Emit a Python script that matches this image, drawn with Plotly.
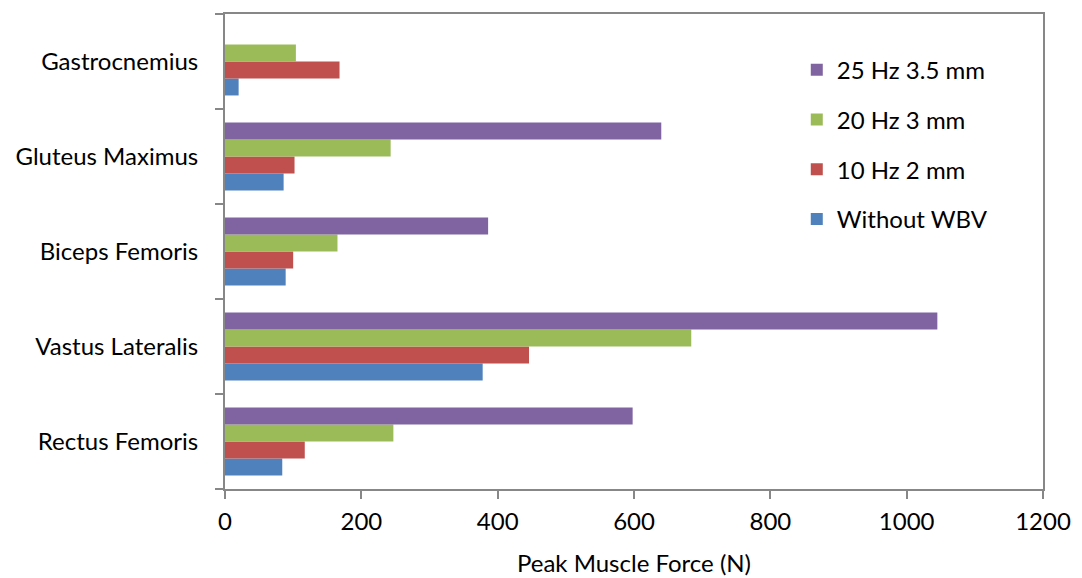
import plotly.graph_objects as go

categories = ["Rectus Femoris", "Vastus Lateralis", "Biceps Femoris", "Gluteus Maximus", "Gastrocnemius"]
without_wbv = [84, 378, 89, 86, 20]
hz10_2mm = [117, 446, 100, 102, 168]
hz20_3mm = [247, 684, 165, 243, 104]
hz25_35mm = [598, 1045, 386, 640, None]

series = [
    ("Without WBV", without_wbv, "#4F81BD", 4),
    ("10 Hz 2 mm", hz10_2mm, "#C0504D", 3),
    ("20 Hz 3 mm", hz20_3mm, "#9BBB59", 2),
    ("25 Hz 3.5 mm", hz25_35mm, "#8064A2", 1),
]

x_ticks = [0, 200, 400, 600, 800, 1000, 1200]

fig = go.Figure()
for name, vals, color, rank in series:
    fig.add_trace(go.Bar(
        y=categories, x=vals, name=name, orientation="h",
        marker=dict(color=color, line=dict(width=0)),
        legendgroup=name, legendrank=rank,
    ))

font = "Lato, 'Open Sans', sans-serif"
fs = 24
axis_color = "#878787"

fig.update_layout(
    width=1082, height=578,
    barmode="group", bargap=0.285, bargroupgap=0,
    margin=dict(l=217, r=47, t=6, b=97),
    plot_bgcolor="white", paper_bgcolor="white",
    font=dict(family=font, size=fs, color="#000000"),
    showlegend=True,
    legend=dict(
        traceorder="grouped", tracegroupgap=15.5,
        x=0.699, y=0.929, xanchor="left", yanchor="top",
        font=dict(family=font, size=fs, color="#000000"),
        bgcolor="rgba(0,0,0,0)", itemwidth=30,
    ),
    xaxis=dict(
        range=[0, 1200], tickvals=x_ticks, ticktext=[str(v) for v in x_ticks],
        showgrid=False, zeroline=False,
        showline=True, linecolor=axis_color, linewidth=2, mirror=True,
        ticks="outside", ticklen=8, tickcolor=axis_color, tickwidth=1.5,
        tickfont=dict(family=font, size=fs),
        ticklabelstandoff=2,
        title=dict(text="Peak Muscle Force (N)", font=dict(family=font, size=fs), standoff=21),
        automargin=False,
    ),
    yaxis=dict(
        showgrid=False, zeroline=False,
        showline=True, linecolor=axis_color, linewidth=2, mirror=True,
        ticks="outside", ticklen=8, tickcolor=axis_color, tickwidth=1.5,
        tickson="boundaries",
        tickfont=dict(family=font, size=fs),
        ticklabelstandoff=20,
        automargin=False,
    ),
)

fig.write_html("out.html")
